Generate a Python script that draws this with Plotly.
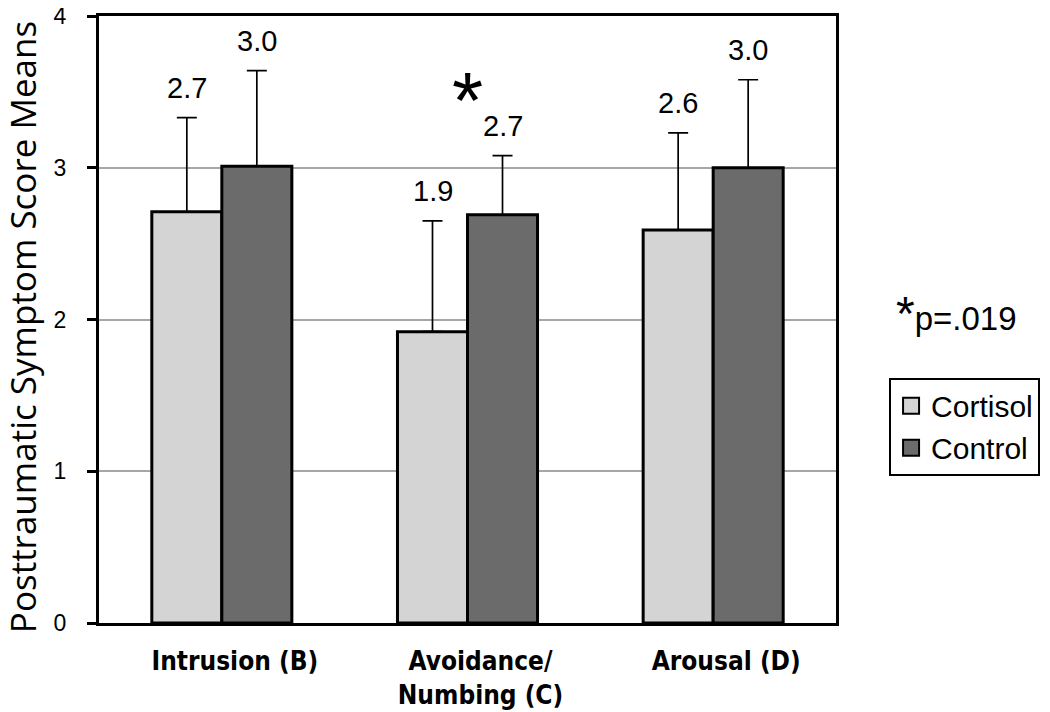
import plotly.graph_objects as go

categories = ["Intrusion (B)", "Avoidance/<br>Numbing (C)", "Arousal (D)"]
cortisol = [2.71, 1.92, 2.59]
control = [3.01, 2.69, 3.0]
cortisol_err = [0.62, 0.73, 0.64]
control_err = [0.63, 0.39, 0.58]
cortisol_labels = ["2.7", "1.9", "2.6"]
control_labels = ["3.0", "2.7", "3.0"]
sig_category = "Avoidance/<br>Numbing (C)"

LIGHT = "#d4d4d4"
DARK = "#6b6b6b"

fig = go.Figure()
fig.add_trace(go.Bar(
    name="Cortisol", x=categories, y=cortisol, showlegend=False,
    marker=dict(color=LIGHT, line=dict(color="black", width=3)),
    error_y=dict(type="data", array=cortisol_err, arrayminus=[0] * 3, symmetric=False,
                 color="black", thickness=1.7, width=10),
))
fig.add_trace(go.Bar(
    name="Control", x=categories, y=control, showlegend=False,
    marker=dict(color=DARK, line=dict(color="black", width=3)),
    error_y=dict(type="data", array=control_err, arrayminus=[0] * 3, symmetric=False,
                 color="black", thickness=1.7, width=10),
))

# legend proxies with big square swatches
for name, col in [("Cortisol", LIGHT), ("Control", DARK)]:
    fig.add_trace(go.Scatter(
        x=[None], y=[None], mode="markers", name=name, legendgroup=name,
        marker=dict(symbol="square", size=26, color=col, line=dict(color="black", width=2)),
    ))

# value labels above the error bars
for cat, v, e, t in zip(categories, cortisol, cortisol_err, cortisol_labels):
    fig.add_annotation(x=cat, y=v + e, text=t, showarrow=False, yanchor="bottom",
                       xshift=-35, yshift=12, font=dict(size=29, color="black"))
for cat, v, e, t in zip(categories, control, control_err, control_labels):
    fig.add_annotation(x=cat, y=v + e, text=t, showarrow=False, yanchor="bottom",
                       xshift=35, yshift=12, font=dict(size=29, color="black"))

fig.add_annotation(x=sig_category, y=3.51, text="*", showarrow=False,
                   font=dict(size=80, color="black"), yshift=-10)
fig.add_annotation(xref="paper", yref="paper", x=1.079, y=0.51, xanchor="left",
                   text="<span style='font-size:48px'>*</span>p=.019", showarrow=False,
                   font=dict(size=33, color="black"))

# y title as annotation so it can sit close to the page edge
fig.add_annotation(xref="paper", yref="paper", x=-0.104, y=0.488, textangle=-90,
                   text="Posttraumatic Symptom Score Means", showarrow=False,
                   xanchor="center", yanchor="middle",
                   font=dict(family="Open Sans, sans-serif", size=35, color="black"))

# the page body adds an 8px offset; size and margins allow for it
fig.update_layout(
    width=1042, height=704,
    margin=dict(l=91, r=214, t=8, b=89),
    paper_bgcolor="white", plot_bgcolor="white",
    barmode="group", bargap=0.43, bargroupgap=0,
    font=dict(family="Liberation Sans, Arial, sans-serif", color="black"),
    legend=dict(x=1.072, y=0.404, xanchor="left", yanchor="top",
                bordercolor="black", borderwidth=2, font=dict(size=30),
                tracegroupgap=0),
    xaxis=dict(
        automargin=False,
        showline=True, linecolor="black", linewidth=3, mirror=True,
        ticks="", ticklabelstandoff=13, ticklabelshift=13,
        tickfont=dict(family="Liberation Sans Narrow, DejaVu Sans Condensed, sans-serif",
                      size=26, weight="bold"),
    ),
    yaxis=dict(
        automargin=False,
        range=[0, 4], dtick=1, showline=True, linecolor="black", linewidth=3, mirror=True,
        ticks="outside", ticklen=9, tickwidth=3, tickcolor="black", ticklabelstandoff=16,
        ticklabeloverflow="allow",
        showgrid=True, gridcolor="#a6a6a6", gridwidth=2,
        tickfont=dict(size=23),
    ),
)

fig.write_html("out.html")
